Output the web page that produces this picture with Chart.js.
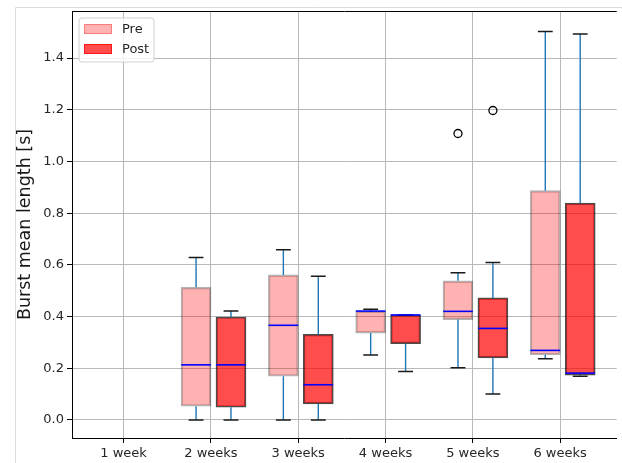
<!DOCTYPE html>
<html>
<head>
<meta charset="utf-8">
<script src="https://cdn.jsdelivr.net/npm/chart.js@4.4.1/dist/chart.umd.min.js"></script>
<style>
  html, body { margin: 0; padding: 0; background: #fff; }
  #wrap { width: 622px; height: 463px; position: relative; }
</style>
</head>
<body>
<div id="wrap"><canvas id="chart" width="622" height="463"></canvas></div>
<script>
// Week groups along the x axis
const categories = ['1 week', '2 weeks', '3 weeks', '4 weeks', '5 weeks', '6 weeks'];
const positions = [1, 2, 3, 4, 5, 6];

// Box statistics per week (null = no recordings that week)
const preLow  = [null, 0.000, 0.000, 0.251, 0.202, 0.237];
const preQ1   = [null, 0.053, 0.169, 0.336, 0.388, 0.252];
const preMed  = [null, 0.213, 0.366, 0.421, 0.420, 0.269];
const preQ3   = [null, 0.513, 0.561, 0.421, 0.538, 0.887];
const preHigh = [null, 0.628, 0.658, 0.428, 0.569, 1.503];
const preOutliers = [[], [], [], [], [1.108], []];

const postLow  = [null, 0.000, 0.000, 0.187, 0.100, 0.169];
const postQ1   = [null, 0.049, 0.062, 0.295, 0.240, 0.173];
const postMed  = [null, 0.213, 0.136, 0.406, 0.354, 0.181];
const postQ3   = [null, 0.398, 0.331, 0.406, 0.472, 0.839];
const postHigh = [null, 0.421, 0.556, 0.406, 0.609, 1.493];
const postOutliers = [[], [], [], [], [1.197], []];

// Y axis tick values
const yTicks = [0.0, 0.2, 0.4, 0.6, 0.8, 1.0, 1.2, 1.4];

const PRE_SHIFT = -0.17, POST_SHIFT = 0.23, HALF_BOX = 0.17;

const series = [
  { label: 'Pre',  shift: PRE_SHIFT,  low: preLow,  q1: preQ1,  med: preMed,  q3: preQ3,  high: preHigh,  out: preOutliers,
    fill: 'rgba(255,0,0,0.3)', edge: 'rgba(0,0,0,0.3)' },
  { label: 'Post', shift: POST_SHIFT, low: postLow, q1: postQ1, med: postMed, q3: postQ3, high: postHigh, out: postOutliers,
    fill: 'rgba(255,0,0,0.7)', edge: 'rgba(0,0,0,0.7)' }
];

function boxData(s) {
  const d = [];
  positions.forEach((p, i) => {
    if (s.q1[i] !== null) d.push({ x: p + s.shift, y: [s.q1[i], s.q3[i]] });
  });
  return d;
}
function outlierData(s) {
  const d = [];
  positions.forEach((p, i) => s.out[i].forEach(v => d.push({ x: p + s.shift, y: v })));
  return d;
}

const FONT = 'DejaVu Sans';

// Whiskers, caps and medians drawn from the same statistics
const boxExtras = {
  id: 'boxExtras',
  afterDatasetsDraw(chart) {
    const { ctx, scales: { x, y } } = chart;
    ctx.save();
    series.forEach(s => {
      positions.forEach((p, i) => {
        if (s.q1[i] === null) return;
        const c = p + s.shift;
        const xc = x.getPixelForValue(c);
        const xCapL = x.getPixelForValue(c - HALF_BOX / 2), xCapR = x.getPixelForValue(c + HALF_BOX / 2);
        const xBL = x.getPixelForValue(c - HALF_BOX), xBR = x.getPixelForValue(c + HALF_BOX);
        // whiskers
        ctx.strokeStyle = '#1f77b4';
        ctx.lineWidth = 1.4;
        ctx.beginPath();
        ctx.moveTo(xc, y.getPixelForValue(s.q3[i])); ctx.lineTo(xc, y.getPixelForValue(s.high[i]));
        ctx.moveTo(xc, y.getPixelForValue(s.q1[i])); ctx.lineTo(xc, y.getPixelForValue(s.low[i]));
        ctx.stroke();
        // caps
        ctx.strokeStyle = '#1a1a1a';
        ctx.lineWidth = 1.5;
        ctx.beginPath();
        const yh = y.getPixelForValue(s.high[i]), yl = y.getPixelForValue(s.low[i]);
        ctx.moveTo(xCapL, yh); ctx.lineTo(xCapR, yh);
        ctx.moveTo(xCapL, yl); ctx.lineTo(xCapR, yl);
        ctx.stroke();
        // median
        ctx.strokeStyle = '#0000ff';
        ctx.lineWidth = 1.6;
        ctx.beginPath();
        const ym = y.getPixelForValue(s.med[i]);
        ctx.moveTo(xBL, ym); ctx.lineTo(xBR, ym);
        ctx.stroke();
      });
    });
    ctx.restore();
  }
};

// Figure frame, top spine and the legend box
const decorations = {
  id: 'decorations',
  beforeDraw(chart) {
    const { ctx } = chart;
    ctx.save();
    ctx.strokeStyle = '#dcdcdc';
    ctx.lineWidth = 1;
    ctx.beginPath();
    ctx.moveTo(15.5, 463); ctx.lineTo(15.5, 7.5); ctx.lineTo(622, 7.5);
    ctx.stroke();
    ctx.restore();
  },
  afterDraw(chart) {
    const { ctx, chartArea } = chart;
    ctx.save();
    ctx.strokeStyle = '#000';
    ctx.lineWidth = 1;
    ctx.beginPath();
    ctx.moveTo(chartArea.left, chartArea.top + 0.5);
    ctx.lineTo(chartArea.right, chartArea.top + 0.5);
    ctx.stroke();

    // legend
    const lx = chartArea.left + 7, ly = chartArea.top + 7, lw = 75, lh = 44, r = 3;
    ctx.fillStyle = 'rgba(255,255,255,0.8)';
    ctx.strokeStyle = '#d0d0d0';
    ctx.beginPath();
    ctx.moveTo(lx + r, ly);
    ctx.arcTo(lx + lw, ly, lx + lw, ly + lh, r);
    ctx.arcTo(lx + lw, ly + lh, lx, ly + lh, r);
    ctx.arcTo(lx, ly + lh, lx, ly, r);
    ctx.arcTo(lx, ly, lx + lw, ly, r);
    ctx.closePath();
    ctx.fill();
    ctx.stroke();
    ctx.font = '13px "' + FONT + '"';
    ctx.textBaseline = 'middle';
    series.forEach((s, k) => {
      const ry = ly + 6 + k * 20;
      ctx.fillStyle = s.fill;
      ctx.fillRect(lx + 5, ry, 28, 10);
      ctx.strokeStyle = s.fill;
      ctx.strokeRect(lx + 5.5, ry + 0.5, 27, 9);
      ctx.fillStyle = '#262626';
      ctx.fillText(s.label, lx + 43, ry + 5.5);
    });
    ctx.restore();
  }
};

new Chart(document.getElementById('chart'), {
  type: 'bar',
  data: {
    datasets: [
      ...series.map(s => ({
        type: 'bar', label: s.label, data: boxData(s),
        backgroundColor: s.fill, borderColor: s.edge, borderWidth: 1.5,
        borderSkipped: false, barThickness: 30, grouped: false, order: 2
      })),
      ...series.map(s => ({
        type: 'scatter', label: s.label + ' outliers', data: outlierData(s),
        pointRadius: 4, pointBorderWidth: 1.3, pointBorderColor: '#000',
        pointBackgroundColor: 'rgba(0,0,0,0)', showLine: false, order: 1
      }))
    ]
  },
  options: {
    responsive: false,
    animation: false,
    layout: { padding: { top: 11, left: 0, right: 0, bottom: 0 } },
    plugins: { legend: { display: false }, tooltip: { enabled: false } },
    scales: {
      x: {
        type: 'linear', min: 0.409, max: 6.648, offset: false,
        afterFit(scale) { scale.height = 25; },
        afterBuildTicks(scale) { scale.ticks = positions.map(v => ({ value: v })); },
        ticks: {
          callback: (v) => categories[positions.indexOf(v)] ?? '',
          font: { family: FONT, size: 13 }, color: '#262626', padding: 3,
          maxRotation: 0, autoSkip: false
        },
        grid: { color: '#b8b8b8', lineWidth: 1, tickColor: '#000', tickLength: 5, offset: false },
        border: { color: '#000', width: 1 }
      },
      y: {
        min: -0.07, max: 1.582,
        afterFit(scale) { scale.width = 72; },
        afterBuildTicks(scale) { scale.ticks = yTicks.map(v => ({ value: v })); },
        ticks: {
          callback: (v) => Number(v).toFixed(1),
          font: { family: FONT, size: 13 }, color: '#262626', padding: 3
        },
        grid: { color: '#b8b8b8', lineWidth: 1, tickColor: '#000', tickLength: 5 },
        border: { color: '#000', width: 1 },
        title: {
          display: true, text: 'Burst mean length [s]',
          font: { family: FONT, size: 17.5 }, color: '#1a1a1a',
          padding: { top: 15, bottom: 0 }
        }
      }
    }
  },
  plugins: [boxExtras, decorations]
});
</script>
</body>
</html>
